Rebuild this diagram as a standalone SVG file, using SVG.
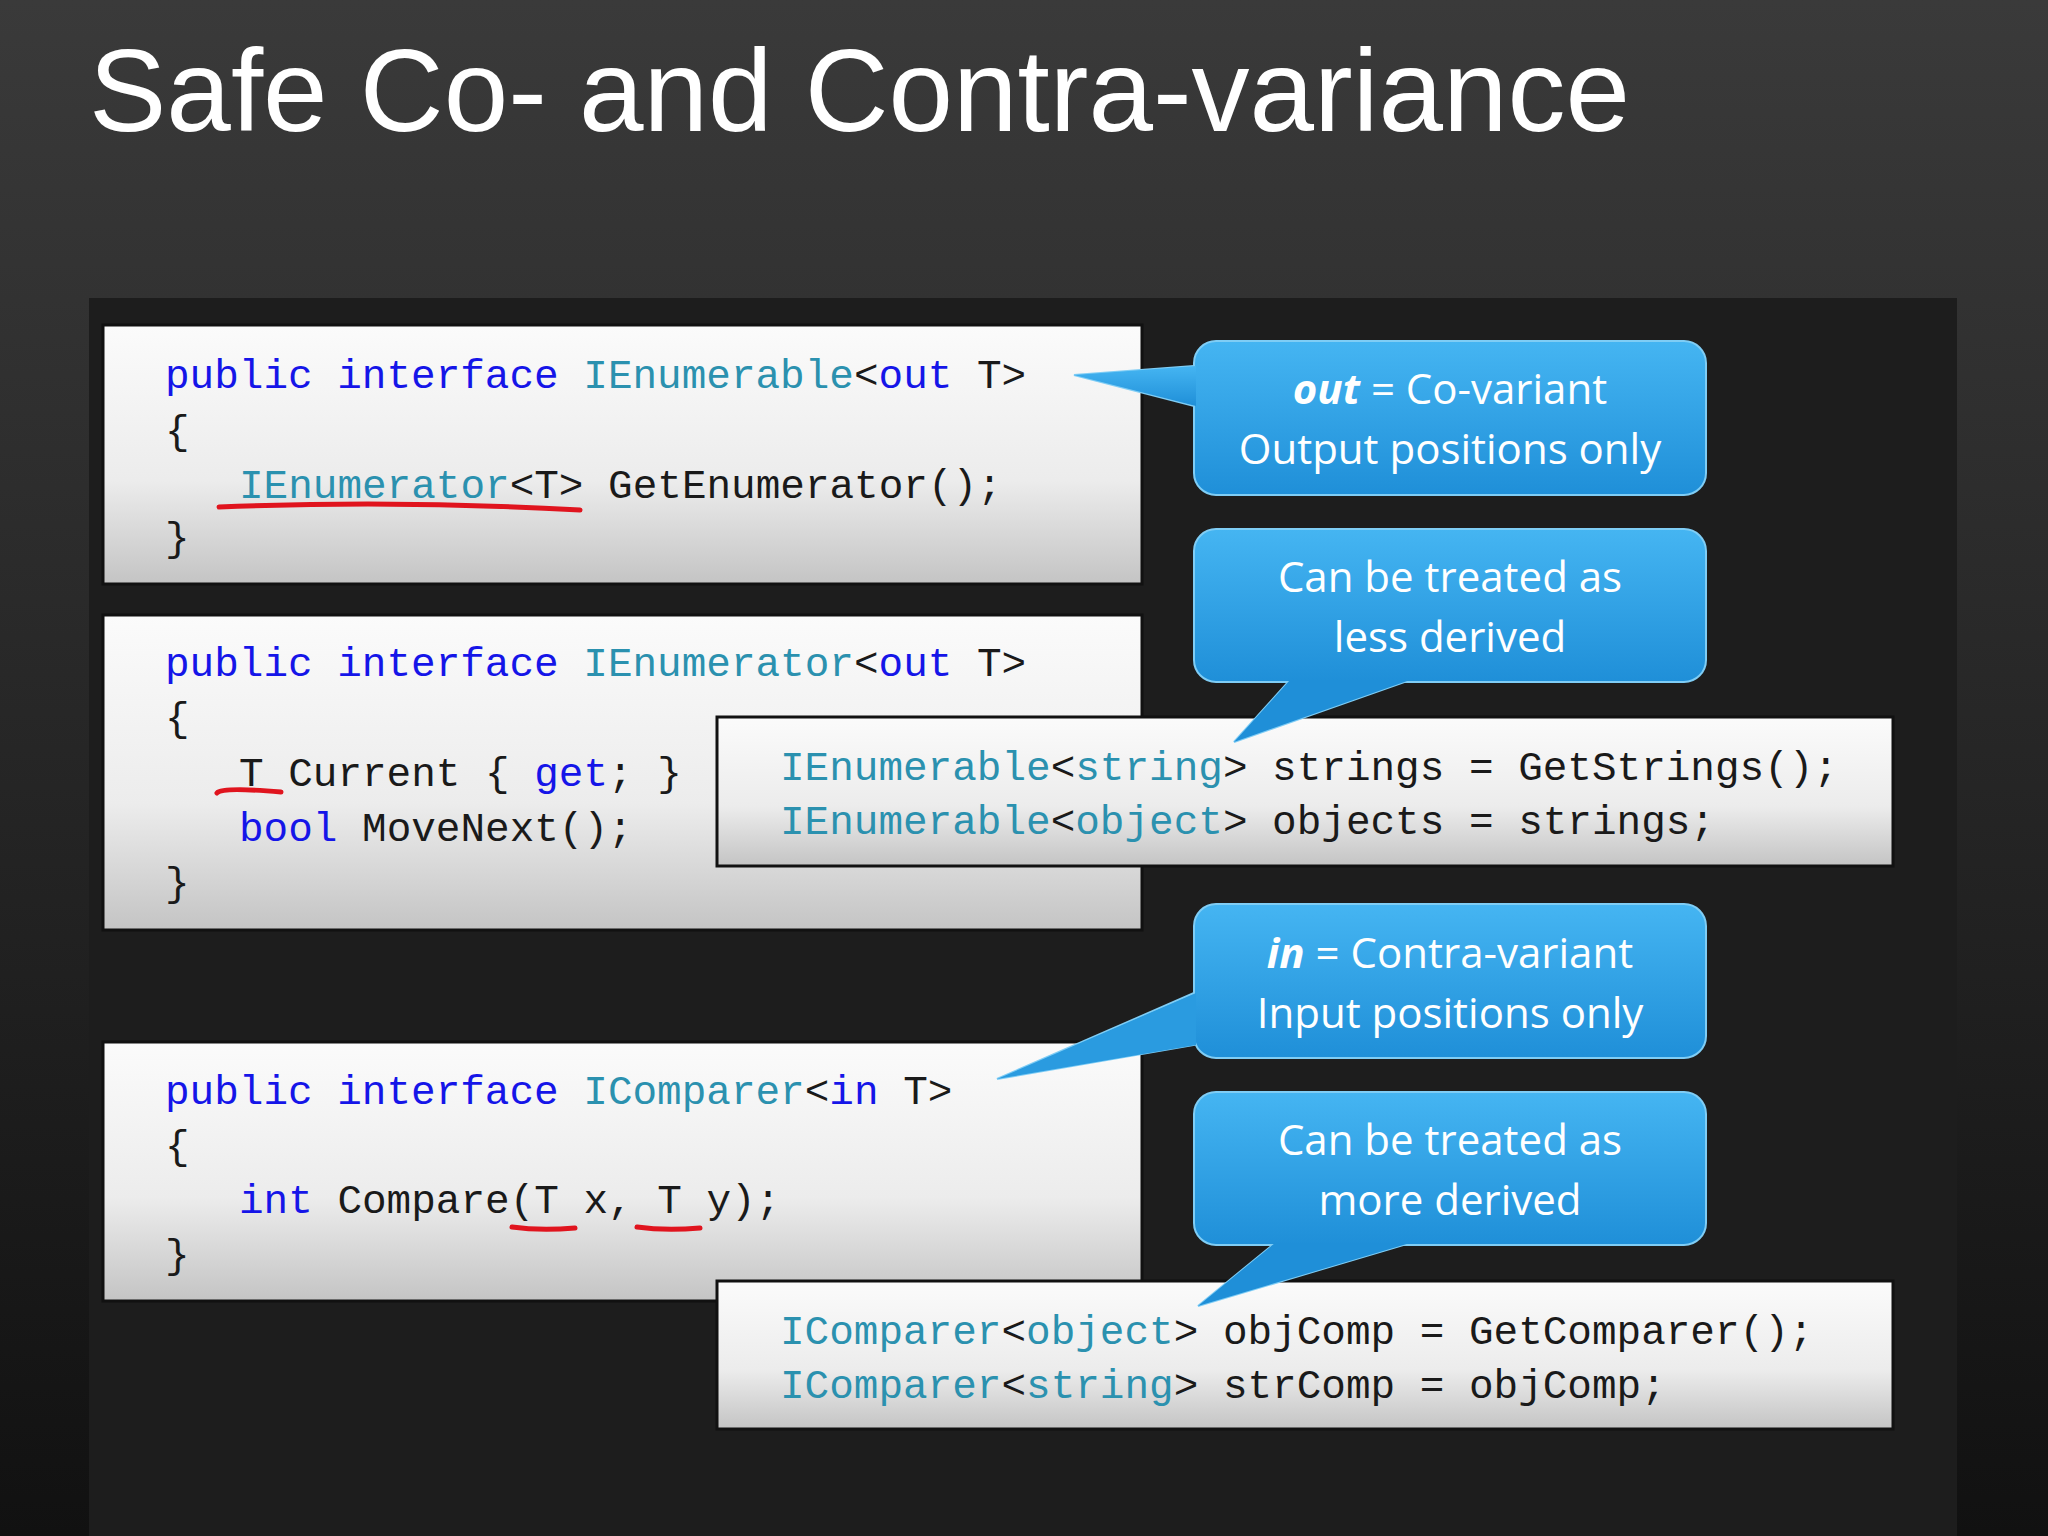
<svg xmlns="http://www.w3.org/2000/svg" width="2048" height="1536" viewBox="0 0 2048 1536">
<defs>
<linearGradient id="bg" x1="0" y1="0" x2="0" y2="1"><stop offset="0" stop-color="#3a3a3a"/><stop offset="1" stop-color="#111"/></linearGradient>
<linearGradient id="box" x1="0" y1="0" x2="0" y2="1"><stop offset="0" stop-color="#fbfbfb"/><stop offset="0.6" stop-color="#ececec"/><stop offset="1" stop-color="#c4c4c4"/></linearGradient>
<linearGradient id="blue" x1="0" y1="0" x2="0" y2="1"><stop offset="0" stop-color="#45b5f2"/><stop offset="1" stop-color="#1f8fd8"/></linearGradient>
<style>
.box{fill:url(#box);stroke:#111;stroke-width:3}
.code{font-family:"Liberation Mono","DejaVu Sans Mono",monospace;font-size:41px;fill:#1a1a1a}
.k{fill:#1515e8}.t{fill:#2b91af}
.ul{fill:none;stroke:#e0141e;stroke-width:5;stroke-linecap:round}
.call{fill:url(#blue);stroke:#7fcdf5;stroke-width:2}
.ct{font-family:"Open Sans","Liberation Sans",sans-serif;font-size:42px;fill:#fff;text-anchor:middle}
</style>
</defs>
<rect width="2048" height="1536" fill="url(#bg)"/>
<rect x="89" y="298" width="1868" height="1238" fill="#1d1d1d"/>
<text x="89" y="131" font-family="Liberation Sans,Arial,sans-serif" font-size="116" fill="#fff">Safe Co- and Contra-variance</text>

<g id="box1"><rect class="box" x="103" y="325" width="1039" height="259"/>
<text class="code" x="165" y="388"><tspan class="k">public interface</tspan> <tspan class="t">IEnumerable</tspan>&lt;<tspan class="k">out</tspan> T&gt;</text>
<text class="code" x="165" y="444">{</text>
<text class="code" x="239" y="498"><tspan class="t">IEnumerator</tspan>&lt;T&gt; GetEnumerator();</text>
<text class="code" x="165" y="551">}</text>
<path class="ul" d="M219,507 Q400,500 580,510"/></g>

<g id="box2"><rect class="box" x="103" y="615" width="1039" height="315"/>
<text class="code" x="165" y="676"><tspan class="k">public interface</tspan> <tspan class="t">IEnumerator</tspan>&lt;<tspan class="k">out</tspan> T&gt;</text>
<text class="code" x="165" y="731">{</text>
<text class="code" x="239" y="786">T Current { <tspan class="k">get</tspan>; }</text>
<text class="code" x="239" y="841"><tspan class="k">bool</tspan> MoveNext();</text>
<text class="code" x="165" y="896">}</text>
<path class="ul" d="M217,793 Q222,787 281,792"/></g>

<g id="box3"><rect class="box" x="103" y="1042" width="1039" height="259"/>
<text class="code" x="165" y="1104"><tspan class="k">public interface</tspan> <tspan class="t">IComparer</tspan>&lt;<tspan class="k">in</tspan> T&gt;</text>
<text class="code" x="165" y="1159">{</text>
<text class="code" x="239" y="1213"><tspan class="k">int</tspan> Compare(T x, T y);</text>
<text class="code" x="165" y="1268">}</text>
<path class="ul" d="M512,1227 Q540,1231 575,1228"/><path class="ul" d="M637,1227 Q665,1231 700,1228"/></g>

<g id="box4"><rect class="box" x="717" y="717" width="1176" height="149"/>
<text class="code" x="780" y="780"><tspan class="t">IEnumerable</tspan>&lt;<tspan class="t">string</tspan>&gt; strings = GetStrings();</text>
<text class="code" x="780" y="834"><tspan class="t">IEnumerable</tspan>&lt;<tspan class="t">object</tspan>&gt; objects = strings;</text></g>

<g id="box5"><rect class="box" x="717" y="1281" width="1176" height="148"/>
<text class="code" x="780" y="1344"><tspan class="t">IComparer</tspan>&lt;<tspan class="t">object</tspan>&gt; objComp = GetComparer();</text>
<text class="code" x="780" y="1398"><tspan class="t">IComparer</tspan>&lt;<tspan class="t">string</tspan>&gt; strComp = objComp;</text></g>

<g id="connectors">
<path class="call" d="M1194,366 L1074,375 L1194,406 Z" stroke="none"/>
<path class="call" d="M1290,680 L1234,742 L1410,680 Z" stroke="none"/>
<path class="call" d="M1194,993 L997,1079 L1194,1045 Z" stroke="none"/>
<path class="call" d="M1275,1243 L1198,1306 L1410,1243 Z" stroke="none"/>
</g>

<g id="c1"><rect class="call" x="1194" y="341" width="512" height="154" rx="22"/>
<path d="M1196,366 L1074,375 L1196,406" fill="url(#blue)"/>
<text class="ct" x="1450" y="404"><tspan font-weight="bold" font-style="italic">out</tspan> = Co-variant</text>
<text class="ct" x="1450" y="464">Output positions only</text></g>

<g id="c2"><rect class="call" x="1194" y="529" width="512" height="153" rx="22"/>
<path d="M1290,680 L1234,742 L1410,680" fill="#1f8fd8"/>
<text class="ct" x="1450" y="592">Can be treated as</text>
<text class="ct" x="1450" y="652">less derived</text></g>

<g id="c3"><rect class="call" x="1194" y="904" width="512" height="154" rx="22"/>
<path d="M1196,993 L997,1079 L1196,1045" fill="#2a9be0"/>
<text class="ct" x="1450" y="968"><tspan font-weight="bold" font-style="italic">in</tspan> = Contra-variant</text>
<text class="ct" x="1450" y="1028">Input positions only</text></g>

<g id="c4"><rect class="call" x="1194" y="1092" width="512" height="153" rx="22"/>
<path d="M1275,1243 L1198,1306 L1410,1243" fill="#1f8fd8"/>
<text class="ct" x="1450" y="1155">Can be treated as</text>
<text class="ct" x="1450" y="1215">more derived</text></g>
</svg>
